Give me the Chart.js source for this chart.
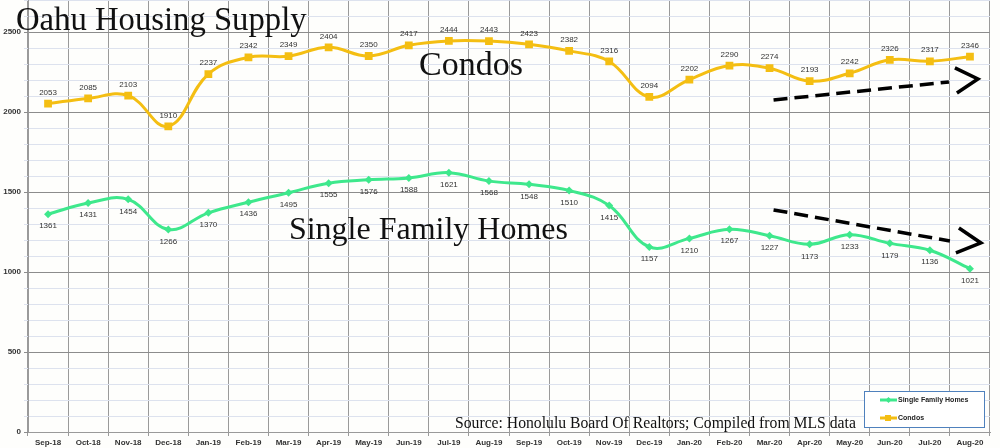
<!DOCTYPE html>
<html>
<head>
<meta charset="utf-8">
<script src="https://cdn.jsdelivr.net/npm/chart.js@4.4.1/dist/chart.umd.min.js"></script>
<style>
  html, body { margin: 0; padding: 0; background: #fefefc; }
  #wrap { width: 1000px; height: 448px; position: relative; }
</style>
</head>
<body>
<div id="wrap"><canvas id="c" width="1000" height="448"></canvas></div>
<script>
const categories = ['Sep-18','Oct-18','Nov-18','Dec-18','Jan-19','Feb-19','Mar-19','Apr-19','May-19','Jun-19','Jul-19','Aug-19','Sep-19','Oct-19','Nov-19','Dec-19','Jan-20','Feb-20','Mar-20','Apr-20','May-20','Jun-20','Jul-20','Aug-20'];
const sfhValues = [1361,1431,1454,1266,1370,1436,1495,1555,1576,1588,1621,1568,1548,1510,1415,1157,1210,1267,1227,1173,1233,1179,1136,1021];
const condoValues = [2053,2085,2103,1910,2237,2342,2349,2404,2350,2417,2444,2443,2423,2382,2316,2094,2202,2290,2274,2193,2242,2326,2317,2346];
const yLabelTicks = [0,500,1000,1500,2000,2500];
const titleText = 'Oahu Housing Supply';
const sourceText = 'Source: Honolulu Board Of Realtors; Compiled from MLS data';
// annotation text labels placed in data coordinates [text, xIndex, yValue]
const textNotes = [['Condos', 10.55, 2231], ['Single Family Homes', 9.49, 1206]];
// trend arrows in data coordinates: [x0, y0, x1, y1]
const trendArrows = [[18.1, 2075, 22.475, 2188], [18.1, 1388, 22.5, 1194]];
// arrowhead shapes, offsets in px from the end of each dashed line
const arrowHeads = [[[6,-14],[29,-3],[8,11]], [[9,-13],[31,2],[6,12]]];

const SFH_COLOR = '#3ee88c';
const CONDO_COLOR = '#f4be12';

const labelPlugin = {
  id: 'valueLabels',
  afterDatasetsDraw(chart) {
    const ctx = chart.ctx;
    ctx.save();
    ctx.font = '8px "Liberation Sans", Arial, sans-serif';
    ctx.fillStyle = '#333';
    ctx.textAlign = 'center';
    ctx.textBaseline = 'middle';
    chart.data.datasets.forEach((ds, i) => {
      const meta = chart.getDatasetMeta(i);
      const off = ds.labelOffset;
      meta.data.forEach((pt, j) => {
        ctx.fillText(String(ds.data[j]), pt.x, pt.y + off);
      });
    });
    ctx.restore();
  }
};

const decoPlugin = {
  id: 'deco',
  afterDraw(chart) {
    const ctx = chart.ctx;
    const xs = chart.scales.x, ys = chart.scales.y;
    const ca = chart.chartArea;
    ctx.save();
    // Title
    ctx.fillStyle = '#111';
    ctx.textBaseline = 'alphabetic';
    ctx.textAlign = 'left';
    ctx.font = '32.7px "Liberation Serif", "DejaVu Serif", serif';
    ctx.fillText(titleText, 16, 30);
    // notes
    ctx.font = '34px "Liberation Serif", "DejaVu Serif", serif';
    ctx.textAlign = 'center';
    ctx.fillText(textNotes[0][0], xs.getPixelForValue(textNotes[0][1]), ys.getPixelForValue(textNotes[0][2]));
    ctx.font = '32px "Liberation Serif", "DejaVu Serif", serif';
    ctx.fillText(textNotes[1][0], xs.getPixelForValue(textNotes[1][1]), ys.getPixelForValue(textNotes[1][2]));
    // source
    ctx.font = '15.7px "Liberation Serif", "DejaVu Serif", serif';
    ctx.textAlign = 'left';
    ctx.fillText(sourceText, 455, 428);

    // trend arrows
    ctx.strokeStyle = '#000';
    ctx.lineWidth = 3.5;
    trendArrows.forEach((a, k) => {
      const x0 = xs.getPixelForValue(a[0]), y0 = ys.getPixelForValue(a[1]);
      const x1 = xs.getPixelForValue(a[2]), y1 = ys.getPixelForValue(a[3]);
      ctx.setLineDash([14, 7]);
      ctx.beginPath(); ctx.moveTo(x0, y0); ctx.lineTo(x1, y1); ctx.stroke();
      ctx.setLineDash([]);
      const h = arrowHeads[k];
      ctx.beginPath();
      ctx.moveTo(x1 + h[0][0], y1 + h[0][1]);
      ctx.lineTo(x1 + h[1][0], y1 + h[1][1]);
      ctx.lineTo(x1 + h[2][0], y1 + h[2][1]);
      ctx.stroke();
    });

    // legend box
    const lx = ca.right - 126, ly = ca.bottom - 41, lw = 120, lh = 36;
    ctx.fillStyle = '#ffffff';
    ctx.fillRect(lx, ly, lw, lh);
    ctx.strokeStyle = '#4f81bd';
    ctx.lineWidth = 1;
    ctx.strokeRect(lx + 0.5, ly + 0.5, lw, lh);
    const items = chart.data.datasets;
    ctx.font = 'bold 7px "Liberation Sans", Arial, sans-serif';
    ctx.textAlign = 'left';
    ctx.textBaseline = 'middle';
    items.forEach((ds, i) => {
      const yy = ly + 9 + i * 18;
      ctx.strokeStyle = ds.borderColor;
      ctx.lineWidth = 3;
      ctx.beginPath(); ctx.moveTo(lx + 16, yy); ctx.lineTo(lx + 33, yy); ctx.stroke();
      ctx.fillStyle = ds.borderColor;
      if (ds.pointStyle === 'rect') {
        ctx.fillRect(lx + 21, yy - 3, 6, 6);
      } else {
        ctx.beginPath();
        ctx.moveTo(lx + 24.5, yy - 3); ctx.lineTo(lx + 27.5, yy); ctx.lineTo(lx + 24.5, yy + 3); ctx.lineTo(lx + 21.5, yy);
        ctx.closePath(); ctx.fill();
      }
      ctx.fillStyle = '#222';
      ctx.fillText(ds.label, lx + 34, yy);
    });
    ctx.restore();
  }
};

const bgPlugin = {
  id: 'bg',
  beforeDraw(chart) {
    const ctx = chart.ctx;
    ctx.save();
    ctx.fillStyle = '#fefefc';
    ctx.fillRect(0, 0, chart.width, chart.height);
    ctx.restore();
  }
};

new Chart(document.getElementById('c'), {
  type: 'line',
  data: {
    labels: categories,
    datasets: [
      {
        label: 'Single Family Homes',
        data: sfhValues,
        borderColor: SFH_COLOR,
        backgroundColor: SFH_COLOR,
        borderWidth: 3,
        pointStyle: 'rectRot',
        pointRadius: 4,
        pointBorderWidth: 0,
        tension: 0.4,
        labelOffset: 12
      },
      {
        label: 'Condos',
        data: condoValues,
        borderColor: CONDO_COLOR,
        backgroundColor: CONDO_COLOR,
        borderWidth: 3,
        pointStyle: 'rect',
        pointRadius: 5.5,
        pointBorderWidth: 0,
        tension: 0.4,
        labelOffset: -11
      }
    ]
  },
  options: {
    responsive: false,
    animation: false,
    devicePixelRatio: 1,
    layout: { autoPadding: false, padding: { left: 0, right: 10, top: 0, bottom: 0 } },
    plugins: { legend: { display: false }, tooltip: { enabled: false } },
    scales: {
      x: {
        offset: true,
        grid: {
          offset: true,
          color: '#9a9a9a',
          lineWidth: 1,
          tickLength: 4,
          drawTicks: true
        },
        border: { color: '#9a9a9a' },
        ticks: {
          font: { family: '"Liberation Sans", Arial, sans-serif', size: 8, weight: 'bold' },
          color: '#333',
          padding: 2,
          maxRotation: 0,
          autoSkip: false
        },
        afterFit(scale) { scale.height = 16; scale.paddingLeft = 0; scale.paddingRight = 0; }
      },
      y: {
        min: 0,
        max: 2700,
        grid: {
          color: ctx => (ctx.tick && ctx.tick.value % 500 === 0) ? '#8c8c8c' : '#dde2ee',
          lineWidth: 1,
          tickLength: 4
        },
        border: { color: '#9a9a9a' },
        ticks: {
          stepSize: 100,
          autoSkip: false,
          font: { family: '"Liberation Sans", Arial, sans-serif', size: 8, weight: 'bold' },
          color: '#333',
          padding: 3,
          callback: v => yLabelTicks.includes(v) ? String(v) : ''
        },
        afterFit(scale) { scale.width = 28; scale.paddingTop = 0; scale.paddingBottom = 0; }
      }
    }
  },
  plugins: [bgPlugin, labelPlugin, decoPlugin]
});
</script>
</body>
</html>
